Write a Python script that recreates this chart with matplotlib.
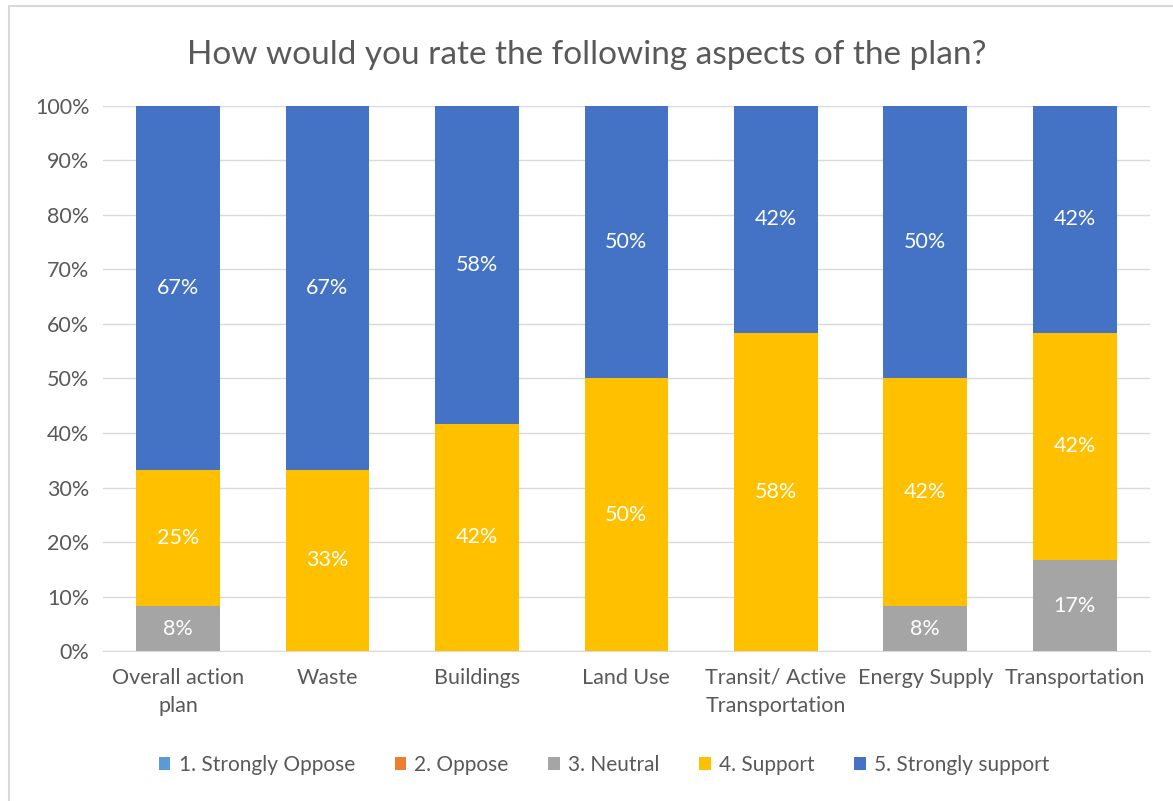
import matplotlib.pyplot as plt
import numpy as np
from matplotlib.patches import Rectangle

plt.rcParams['font.family'] = ['Lato', 'DejaVu Sans']

categories = ['Overall action\nplan', 'Waste', 'Buildings', 'Land Use',
              'Transit/ Active\nTransportation', 'Energy Supply', 'Transportation']
series_names = ['1. Strongly Oppose', '2. Oppose', '3. Neutral', '4. Support', '5. Strongly support']
strongly_oppose = [0, 0, 0, 0, 0, 0, 0]
oppose = [0, 0, 0, 0, 0, 0, 0]
neutral = [8.3, 0, 0, 0, 0, 8.3, 16.7]
support = [25.0, 33.3, 41.7, 50.0, 58.3, 41.7, 41.7]
strongly_support = [66.7, 66.7, 58.3, 50.0, 41.7, 50.0, 41.7]
colors = ['#5B9BD5', '#ED7D31', '#A5A5A5', '#FFC000', '#4472C4']

fig = plt.figure(figsize=(11.73, 8.01), dpi=100)
ax = fig.add_axes([0.088, 0.187, 0.892, 0.681])

x = np.arange(len(categories))
width = 0.56
bottom = np.zeros(len(categories))
for name, vals, c in zip(series_names,
                         [strongly_oppose, oppose, neutral, support, strongly_support],
                         colors):
    vals = np.array(vals)
    bars = ax.bar(x, vals, width, bottom=bottom, color=c, label=name, zorder=3)
    for rect, v, b in zip(bars, vals, bottom):
        if v > 0:
            ax.text(rect.get_x() + rect.get_width() / 2, b + v / 2, '{:.0f}%'.format(v),
                    ha='center', va='center', color='white', fontsize=15.5, zorder=4)
    bottom += vals

ax.set_ylim(0, 100)
ax.set_xlim(-0.5, len(categories) - 0.5)
ax.set_yticks(np.arange(0, 101, 10))
ax.set_yticklabels(['{}%'.format(t) for t in range(0, 101, 10)])
ax.set_xticks(x)
ax.set_xticklabels(categories, linespacing=1.5)
ax.tick_params(length=0, labelsize=15.5, colors='#595959')
ax.tick_params(axis='x', pad=12)
ax.tick_params(axis='y', pad=10)
ax.yaxis.grid(True, color='#D9D9D9', linewidth=1, zorder=0)
for s in ['top', 'right', 'left']:
    ax.spines[s].set_visible(False)
ax.spines['bottom'].set_color('#D9D9D9')

fig.suptitle('How would you rate the following aspects of the plan?',
             y=0.95, fontsize=24, color='#595959')

ax.legend(loc='center', bbox_to_anchor=(0.515, 0.045), bbox_transform=fig.transFigure,
          ncol=5, frameon=False, fontsize=15, labelcolor='#595959',
          handlelength=0.55, handleheight=0.55, handletextpad=0.4, columnspacing=1.9)

fig.patches.append(Rectangle((0.008, -0.01), 1.0, 1.0025, transform=fig.transFigure,
                             fill=False, edgecolor='#D9D9D9', linewidth=1.5))

fig.savefig('out.png', dpi=100)
